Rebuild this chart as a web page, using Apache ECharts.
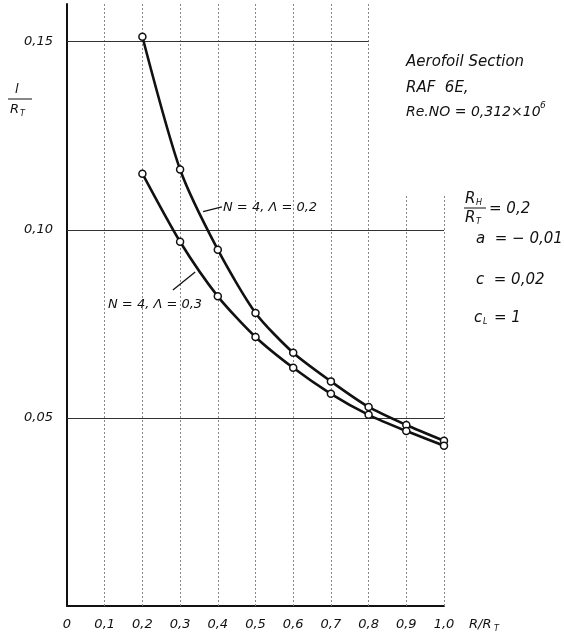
<!DOCTYPE html>
<html>
<head>
<meta charset="utf-8">
<script src="https://cdn.jsdelivr.net/npm/echarts@6/dist/echarts.min.js"></script>
<style>
  html, body { margin: 0; padding: 0; background: #fff; }
  #chart { width: 564px; height: 641px; }
</style>
</head>
<body>
<div id="chart"></div>
<script>
// R/R_T positions
const ratio = [0.2, 0.3, 0.4, 0.5, 0.6, 0.7, 0.8, 0.9, 1.0];
// l/R_T for N = 4, Λ = 0,2
const lambda02 = [0.1513, 0.116, 0.0947, 0.0779, 0.0673, 0.0597, 0.0529, 0.0481, 0.0439];
// l/R_T for N = 4, Λ = 0,3
const lambda03 = [0.1149, 0.0968, 0.0823, 0.0715, 0.0633, 0.0564, 0.0508, 0.0465, 0.0426];

// tick labels
const xTickLabels = ['0', '0,1', '0,2', '0,3', '0,4', '0,5', '0,6', '0,7', '0,8', '0,9', '1,0'];
const yTickLabels = { 5: '0,05', 10: '0,10', 15: '0,15' };

// grid lines drawn on the chart
const vGridX = [0.1, 0.2, 0.3, 0.4, 0.5, 0.6, 0.7, 0.8, 0.9, 1.0];
const vGridTop = [0.16, 0.16, 0.16, 0.16, 0.16, 0.16, 0.16, 0.16, 0.109, 0.109];
const hGridY = [0.05, 0.10, 0.15];
const hGridEnd = [1.0, 1.0, 0.8];

// leader lines from curve labels to curves
const leaders = [
  [[0.361, 0.1048], [0.411, 0.1061]],
  [[0.281, 0.0840], [0.340, 0.0888]]
];

const font = 'DejaVu Sans';
const ink = '#111';

const chart = echarts.init(document.getElementById('chart'));

function pairs(xs, ys) {
  return xs.map((x, i) => [x, ys[i]]);
}

const curveStyle = {
  type: 'line',
  smooth: 0.25,
  symbol: 'circle',
  symbolSize: 7,
  lineStyle: { color: ink, width: 2.6 },
  itemStyle: { color: '#fff', borderColor: ink, borderWidth: 1.5 },
  z: 5
};

const gridLines = [];
vGridX.forEach((x, i) => {
  gridLines.push([
    { coord: [x, 0], lineStyle: { color: '#888', width: 1, type: [2, 2] } },
    { coord: [x, vGridTop[i]] }
  ]);
});
hGridY.forEach((y, i) => {
  gridLines.push([
    { coord: [0, y], lineStyle: { color: '#333', width: 1.2, type: 'solid' } },
    { coord: [hGridEnd[i], y] }
  ]);
});
leaders.forEach(l => {
  gridLines.push([
    { coord: l[0], lineStyle: { color: ink, width: 1.3, type: 'solid' } },
    { coord: l[1] }
  ]);
});

function txt(x, y, text, size) {
  return {
    type: 'text',
    x: x,
    y: y,
    z: 10,
    style: {
      text: text,
      fontFamily: font,
      fontStyle: 'italic',
      fontSize: size,
      fill: ink,
      verticalAlign: 'middle'
    }
  };
}

const option = {
  backgroundColor: '#fff',
  animation: false,
  grid: { left: 67, right: 120, top: 4, bottom: 35 },
  xAxis: {
    type: 'value',
    min: 0,
    max: 1,
    interval: 0.1,
    axisLine: { show: true, onZero: false, lineStyle: { color: ink, width: 2 } },
    axisTick: { show: false },
    splitLine: { show: false },
    axisLabel: {
      margin: 12,
      fontFamily: font,
      fontStyle: 'italic',
      fontSize: 13,
      color: ink,
      formatter: v => xTickLabels[Math.round(v * 10)] || ''
    }
  },
  yAxis: {
    type: 'value',
    min: 0,
    max: 0.16,
    interval: 0.05,
    axisLine: { show: true, lineStyle: { color: ink, width: 2 } },
    axisTick: { show: false },
    splitLine: { show: false },
    axisLabel: {
      margin: 14,
      fontFamily: font,
      fontStyle: 'italic',
      fontSize: 13,
      color: ink,
      formatter: v => yTickLabels[Math.round(v * 100)] || ''
    }
  },
  series: [
    {
      name: 'grid',
      type: 'line',
      data: [],
      silent: true,
      markLine: {
        silent: true,
        symbol: 'none',
        label: { show: false },
        data: gridLines
      }
    },
    Object.assign({ name: 'N = 4, Λ = 0,2', data: pairs(ratio, lambda02) }, curveStyle),
    Object.assign({ name: 'N = 4, Λ = 0,3', data: pairs(ratio, lambda03) }, curveStyle)
  ],
  graphic: [
    // y axis title l / R_T
    txt(15, 90, 'l', 13),
    { type: 'line', shape: { x1: 8, y1: 99, x2: 32, y2: 99 }, style: { stroke: ink, lineWidth: 1 } },
    txt(10, 110, 'R', 13),
    txt(20, 114, 'T', 8),
    // x axis name R/R_T
    txt(469, 625, 'R/R', 13),
    txt(494, 629, 'T', 8),
    // curve labels
    txt(223, 208, 'N = 4, Λ = 0,2', 13),
    txt(108, 305, 'N = 4, Λ = 0,3', 13),
    // section info
    txt(406, 62, 'Aerofoil Section', 15),
    txt(406, 88, 'RAF  6E,', 15),
    txt(406, 112, 'Re.NO = 0,312×10', 14),
    txt(540, 106, '6', 9),
    // parameters
    txt(465, 199, 'R', 15),
    txt(476, 203, 'H', 8),
    { type: 'line', shape: { x1: 464, y1: 208, x2: 486, y2: 208 }, style: { stroke: ink, lineWidth: 1 } },
    txt(465, 218, 'R', 15),
    txt(476, 222, 'T', 8),
    txt(489, 209, '= 0,2', 15),
    txt(476, 239, 'a  = − 0,01', 15),
    txt(476, 280, 'c  = 0,02', 15),
    txt(474, 318, 'c', 15),
    txt(483, 322, 'L', 8),
    txt(494, 318, '= 1', 15)
  ]
};

chart.setOption(option);
window.addEventListener('resize', () => chart.resize());
</script>
</body>
</html>
